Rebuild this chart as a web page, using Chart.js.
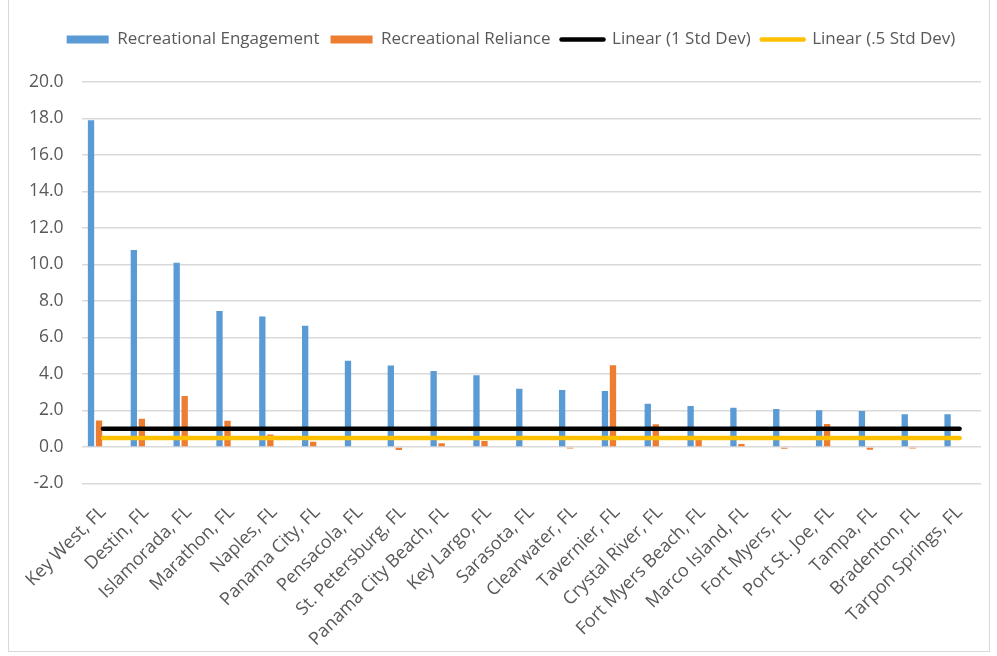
<!DOCTYPE html>
<html><head><meta charset="utf-8">
<script src="https://cdn.jsdelivr.net/npm/chart.js@4/dist/chart.umd.min.js"></script>
<style>
html,body{margin:0;padding:0;background:#fff;overflow:hidden;}
#frame{position:absolute;left:8px;top:-2px;width:982px;height:654px;border:1px solid #d9d9d9;box-sizing:border-box;}
#wrap{position:absolute;left:0;top:0;width:997px;height:656px;}
</style></head><body>
<div id="frame"></div>
<div id="wrap"><canvas id="c"></canvas></div>
<script>
const categories = ["Key West, FL","Destin, FL","Islamorada, FL","Marathon, FL","Naples, FL","Panama City, FL","Pensacola, FL","St. Petersburg, FL","Panama City Beach, FL","Key Largo, FL","Sarasota, FL","Clearwater, FL","Tavernier, FL","Crystal River, FL","Fort Myers Beach, FL","Marco Island, FL","Fort Myers, FL","Port St. Joe, FL","Tampa, FL","Bradenton, FL","Tarpon Springs, FL"];
const engagement = [17.9,10.8,10.1,7.45,7.15,6.65,4.72,4.46,4.17,3.93,3.19,3.12,3.07,2.37,2.24,2.15,2.08,2.02,1.97,1.79,1.79];
const reliance   = [1.45,1.55,2.8,1.44,0.69,0.29,0.0,-0.17,0.2,0.33,0.0,-0.08,4.48,1.24,0.38,0.16,-0.09,1.26,-0.15,-0.08,0.0];
const stdDev1Hidden  = [null,null,null,null,null,null,null,null,null,null,null,null,null,null,null,null,null,null,null,null,null];
const stdDev05Hidden = [null,null,null,null,null,null,null,null,null,null,null,null,null,null,null,null,null,null,null,null,null];
const linear1   = [1,1,1,1,1,1,1,1,1,1,1,1,1,1,1,1,1,1,1,1,1];
const linear05  = [0.5,0.5,0.5,0.5,0.5,0.5,0.5,0.5,0.5,0.5,0.5,0.5,0.5,0.5,0.5,0.5,0.5,0.5,0.5,0.5,0.5];
const yMin = -2, yMax = 20, yStep = 2;

Chart.defaults.font.family = "'Open Sans', sans-serif";
Chart.defaults.font.size = 17;
Chart.defaults.color = '#595959';

const legendOrder = [0,1,4,5];
const CP = 0.748, BP = 0.79;

const layoutTweaks = {
  id: 'layoutTweaks',
  beforeInit(chart) {
    const fit = chart.legend.fit;
    chart.legend.fit = function () {
      fit.bind(chart.legend)();
      this.height += 24;
    };
  },
  afterLayout(chart) {
    chart.legend.left += 15;
    chart.legend.right += 15;
  }
};

new Chart(document.getElementById('c'), {
  data: {
    labels: categories,
    datasets: [
      {type:'bar', label:'Recreational Engagement', data: engagement, backgroundColor:'#5B9BD5', order:1, categoryPercentage:CP, barPercentage:BP},
      {type:'bar', label:'Recreational Reliance', data: reliance, backgroundColor:'#ED7D31', order:1, categoryPercentage:CP, barPercentage:BP},
      {type:'bar', label:'1 Std Dev', data: stdDev1Hidden, backgroundColor:'rgba(0,0,0,0)', order:1, categoryPercentage:CP, barPercentage:BP},
      {type:'bar', label:'.5 Std Dev', data: stdDev05Hidden, backgroundColor:'rgba(0,0,0,0)', order:1, categoryPercentage:CP, barPercentage:BP},
      {type:'line', label:'Linear (1 Std Dev)', data: linear1, borderColor:'#000000', backgroundColor:'#000000', borderWidth:4.5, pointRadius:0, borderCapStyle:'round', order:0},
      {type:'line', label:'Linear (.5 Std Dev)', data: linear05, borderColor:'#FFC000', backgroundColor:'#FFC000', borderWidth:4.5, pointRadius:0, borderCapStyle:'round', order:0}
    ]
  },
  options: {
    responsive: true,
    maintainAspectRatio: false,
    animation: false,
    layout: { padding: { left: 11, right: 16, top: 20, bottom: 8 } },
    plugins: {
      tooltip: { enabled: false },
      legend: {
        position: 'top',
        labels: {
          usePointStyle: true,
          pointStyleWidth: 42,
          boxHeight: 8,
          padding: 11,
          color: '#595959',
          font: { size: 17 },
          generateLabels: (chart) => legendOrder.map(i => {
            const ds = chart.data.datasets[i];
            const isLine = ds.type === 'line';
            return {
              text: ds.label, datasetIndex: i,
              fillStyle: isLine ? 'rgba(0,0,0,0)' : ds.backgroundColor,
              strokeStyle: isLine ? ds.borderColor : ds.backgroundColor,
              lineWidth: isLine ? 4.5 : 0,
              lineCap: 'round',
              pointStyle: isLine ? 'line' : 'rect',
              fontColor: '#595959',
              hidden: false
            };
          })
        }
      }
    },
    scales: {
      x: {
        grid: { display: false, drawTicks: false },
        border: { display: false },
        ticks: { autoSkip: false, minRotation: 45, maxRotation: 45, padding: 18, color:'#595959', font:{size:18} },
        afterFit: (scale) => { scale.height = 164.5; }
      },
      y: {
        min: yMin, max: yMax,
        grid: { color: '#d9d9d9', lineWidth: 1.5, drawTicks: false },
        border: { display: false },
        ticks: { stepSize: yStep, padding: 18, color:'#595959', font:{size:17.5}, callback: v => Number(v).toFixed(1) }
      }
    }
  },
  plugins: [layoutTweaks]
});
</script>
</body></html>
